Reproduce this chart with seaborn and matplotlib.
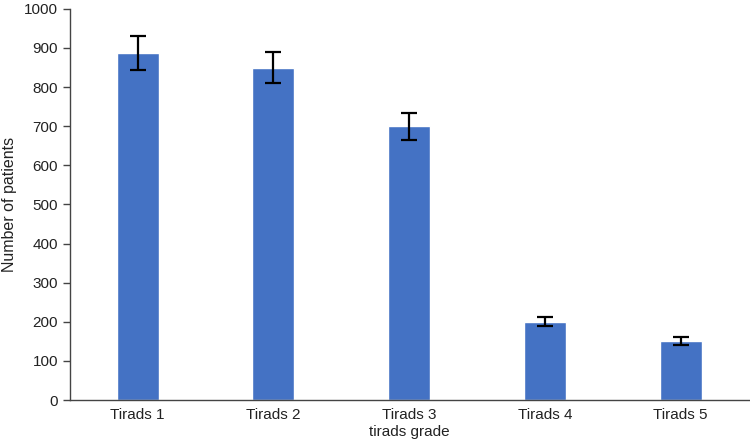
import matplotlib
matplotlib.use("Agg")
import matplotlib.pyplot as plt
import seaborn as sns
import pandas as pd

# Data
grades = ["Tirads 1", "Tirads 2", "Tirads 3", "Tirads 4", "Tirads 5"]
patients = [887, 850, 700, 200, 150]
errors = [44, 40, 35, 12, 10]

df = pd.DataFrame({"grade": grades, "patients": patients})

sns.set_style("white")
plt.rcParams["font.family"] = ["Liberation Sans", "DejaVu Sans"]

fig = plt.figure(figsize=(7.5, 4.43), dpi=100)
ax = fig.add_axes([0.093, 0.097, 0.905, 0.883])

sns.barplot(data=df, x="grade", y="patients", color="#4472C4", saturation=1,
            width=0.31, errorbar=None, ax=ax)
ax.errorbar(range(len(grades)), patients, yerr=errors, fmt="none",
            ecolor="black", elinewidth=1.6, capsize=6, capthick=1.6)

ax.set_ylim(0, 1000)
ax.set_xlim(-0.5, len(grades) - 0.5)
ax.set_yticks(range(0, 1001, 100))
ax.set_xticks(range(len(grades)))
ax.set_xticklabels([g if g != "Tirads 3" else "Tirads 3\ntirads grade" for g in grades])
ax.set_xlabel("")
ax.set_ylabel("Number of patients", fontsize=11.5, color="#222222", labelpad=5)

sns.despine(ax=ax)
for s in ("left", "bottom"):
    ax.spines[s].set_color("#444444")
    ax.spines[s].set_linewidth(1.0)
ax.tick_params(axis="y", length=5, width=1, color="#444444", labelsize=11,
               labelcolor="#222222", left=True)
ax.tick_params(axis="x", length=0, labelsize=11, labelcolor="#222222", pad=6)
for lbl in ax.get_xticklabels():
    lbl.set_verticalalignment("top")

fig.savefig("out.png", dpi=100)
